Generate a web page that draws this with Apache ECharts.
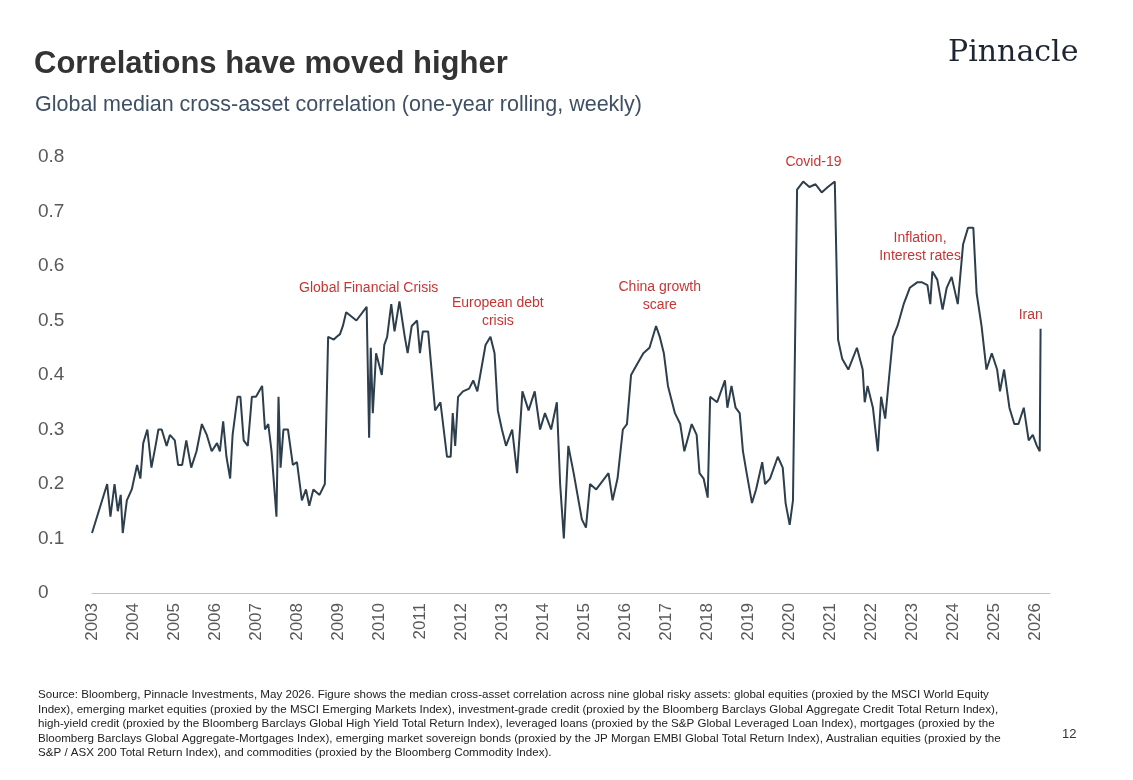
<!DOCTYPE html>
<html>
<head>
<meta charset="utf-8">
<script src="https://cdn.jsdelivr.net/npm/echarts@6/dist/echarts.min.js"></script>
<style>
  html, body { margin: 0; padding: 0; background: #fff; }
  #main { width: 1133px; height: 780px; }
</style>
</head>
<body>
<div id="main"></div>
<script>
// decimal year of each reading
var years = [
  2003.0, 2003.37, 2003.45, 2003.55, 2003.63, 2003.7, 2003.75, 2003.85, 2003.97,
  2004.1, 2004.18, 2004.25, 2004.35, 2004.45, 2004.55, 2004.62, 2004.7, 2004.82, 2004.9,
  2005.02, 2005.1, 2005.2, 2005.3, 2005.42, 2005.55, 2005.68, 2005.8, 2005.92,
  2006.05, 2006.12, 2006.2, 2006.28, 2006.37, 2006.43, 2006.55, 2006.62, 2006.7, 2006.8, 2006.9,
  2007.0, 2007.15, 2007.22, 2007.3, 2007.38, 2007.5, 2007.55, 2007.6, 2007.67, 2007.78,
  2007.9, 2008.0, 2008.12, 2008.22, 2008.3, 2008.4, 2008.55, 2008.68, 2008.76,
  2008.9, 2008.97, 2009.05, 2009.12, 2009.2, 2009.45, 2009.7, 2009.76, 2009.8, 2009.85, 2009.93,
  2010.07, 2010.13, 2010.2, 2010.3, 2010.38, 2010.5, 2010.63, 2010.7, 2010.8, 2010.93,
  2011.0, 2011.07, 2011.2, 2011.37, 2011.5, 2011.66, 2011.75, 2011.8, 2011.86, 2011.93,
  2012.05, 2012.2, 2012.3, 2012.4, 2012.6, 2012.72, 2012.82, 2012.9, 2013.0, 2013.1,
  2013.25, 2013.37, 2013.5, 2013.65, 2013.8, 2013.93, 2014.05, 2014.2, 2014.34,
  2014.42, 2014.51, 2014.62, 2014.75, 2014.95, 2015.05, 2015.15, 2015.3, 2015.6, 2015.7,
  2015.82, 2015.95, 2016.05, 2016.15, 2016.3, 2016.45, 2016.6, 2016.76, 2016.85, 2016.95,
  2017.05, 2017.22, 2017.35, 2017.45, 2017.63, 2017.75, 2017.82, 2017.92, 2018.02,
  2018.08, 2018.25, 2018.44, 2018.5, 2018.6, 2018.7, 2018.8, 2018.88, 2018.97, 2019.1,
  2019.2, 2019.35, 2019.42, 2019.54, 2019.73, 2019.85, 2019.92, 2020.02, 2020.1, 2020.2,
  2020.35, 2020.5, 2020.65, 2020.8, 2020.95, 2021.12, 2021.2, 2021.3, 2021.45, 2021.66,
  2021.8, 2021.85, 2021.92, 2022.05, 2022.17, 2022.25, 2022.35, 2022.45, 2022.54, 2022.65,
  2022.8, 2022.95, 2023.13, 2023.25, 2023.38, 2023.45, 2023.5, 2023.62, 2023.75, 2023.85,
  2023.97, 2024.12, 2024.25, 2024.37, 2024.5, 2024.58, 2024.7, 2024.82, 2024.95, 2025.08,
  2025.15, 2025.25, 2025.38, 2025.5, 2025.6, 2025.73, 2025.85, 2025.95, 2026.05, 2026.12, 2026.14
];
// one-year rolling median correlation
var corr = [
  0.11, 0.20, 0.14, 0.20, 0.15, 0.18, 0.11, 0.17, 0.19,
  0.235, 0.21, 0.275, 0.30, 0.23, 0.27, 0.30, 0.30, 0.27, 0.29,
  0.28, 0.235, 0.235, 0.28, 0.23, 0.26, 0.31, 0.29, 0.26,
  0.275, 0.26, 0.315, 0.25, 0.21, 0.29, 0.36, 0.36, 0.28, 0.27, 0.36,
  0.36, 0.38, 0.30, 0.31, 0.26, 0.14, 0.36, 0.23, 0.30, 0.30,
  0.235, 0.24, 0.17, 0.19, 0.16, 0.19, 0.18, 0.20, 0.47,
  0.465, 0.47, 0.475, 0.49, 0.515, 0.50, 0.525, 0.285, 0.45, 0.33, 0.44,
  0.40, 0.455, 0.47, 0.53, 0.48, 0.535, 0.47, 0.44, 0.49, 0.50,
  0.44, 0.48, 0.48, 0.335, 0.35, 0.25, 0.25, 0.33, 0.27, 0.36,
  0.37, 0.375, 0.39, 0.37, 0.455, 0.47, 0.44, 0.335, 0.30, 0.27,
  0.30, 0.22, 0.37, 0.335, 0.37, 0.30, 0.33, 0.30, 0.35,
  0.20, 0.10, 0.27, 0.22, 0.135, 0.12, 0.20, 0.19, 0.22, 0.17,
  0.21, 0.30, 0.31, 0.40, 0.42, 0.44, 0.45, 0.49, 0.47, 0.44,
  0.38, 0.33, 0.31, 0.26, 0.31, 0.29, 0.22, 0.21, 0.175,
  0.36, 0.35, 0.39, 0.34, 0.38, 0.34, 0.33, 0.26, 0.22, 0.165,
  0.19, 0.24, 0.20, 0.21, 0.25, 0.23, 0.165, 0.125, 0.17, 0.74,
  0.755, 0.745, 0.75, 0.735, 0.745, 0.755, 0.465, 0.43, 0.41, 0.45,
  0.41, 0.35, 0.38, 0.34, 0.26, 0.36, 0.32, 0.40, 0.47, 0.49,
  0.53, 0.56, 0.57, 0.57, 0.565, 0.53, 0.59, 0.575, 0.52, 0.56,
  0.58, 0.53, 0.64, 0.67, 0.67, 0.55, 0.49, 0.41, 0.44, 0.41,
  0.37, 0.41, 0.34, 0.31, 0.31, 0.34, 0.28, 0.29, 0.27, 0.26, 0.485
];
var yTicks = [0, 0.1, 0.2, 0.3, 0.4, 0.5, 0.6, 0.7, 0.8];
// event labels: [text, x year, y value]
var events = [
  ['Global Financial Crisis', 2009.75, 0.56],
  ['European debt\ncrisis', 2012.9, 0.515],
  ['China growth\nscare', 2016.85, 0.545],
  ['Covid-19', 2020.6, 0.79],
  ['Inflation,\nInterest rates', 2023.2, 0.635],
  ['Iran', 2025.9, 0.51]
];

var seriesData = years.map(function(y, i) { return [y, corr[i]]; });

var myChart = echarts.init(document.getElementById('main'));
var option = {
  backgroundColor: '#fff',
  animation: false,
  title: [{
    text: 'Correlations have moved higher',
    left: 29, top: 44,
    textStyle: { fontFamily: 'Liberation Sans', fontSize: 31, fontWeight: 'bold', color: '#333' }
  }, {
    text: 'Global median cross-asset correlation (one-year rolling, weekly)',
    left: 30, top: 89,
    textStyle: { fontFamily: 'Liberation Sans', fontSize: 21.5, fontWeight: 'normal', color: '#3f5064' }
  }],
  graphic: [{
    type: 'text', left: 948, top: 38,
    style: { text: 'Pinnacle', font: '30px "DejaVu Serif"', fill: '#1e2633' }
  }, {
    type: 'text', left: 1062, top: 728,
    style: { text: '12', font: '13px "Liberation Sans"', fill: '#333' }
  }, {
    type: 'text', left: 38, top: 688,
    style: {
      text: 'Source: Bloomberg, Pinnacle Investments, May 2026. Figure shows the median cross-asset correlation across nine global risky assets: global equities (proxied by the MSCI World Equity\nIndex), emerging market equities (proxied by the MSCI Emerging Markets Index), investment-grade credit (proxied by the Bloomberg Barclays Global Aggregate Credit Total Return Index),\nhigh-yield credit (proxied by the Bloomberg Barclays Global High Yield Total Return Index), leveraged loans (proxied by the S&P Global Leveraged Loan Index), mortgages (proxied by the\nBloomberg Barclays Global Aggregate-Mortgages Index), emerging market sovereign bonds (proxied by the JP Morgan EMBI Global Total Return Index), Australian equities (proxied by the\nS&P / ASX 200 Total Return Index), and commodities (proxied by the Bloomberg Commodity Index).',
      font: '11.6px "Liberation Sans"', fill: '#222', lineHeight: 14.5
    }
  }],
  grid: { left: 92, right: 83, top: 157, bottom: 187 },
  xAxis: {
    type: 'value', min: 2003, max: 2026.37, interval: 1,
    axisLine: { lineStyle: { color: '#bfbfbf' } },
    axisTick: { show: false },
    splitLine: { show: false },
    axisLabel: {
      rotate: 90, color: '#595959', fontSize: 17, fontFamily: 'Liberation Sans',
      showMaxLabel: false, margin: 10,
      formatter: function(v) { return String(Math.round(v)); }
    }
  },
  yAxis: {
    type: 'value', min: yTicks[0], max: yTicks[yTicks.length - 1], interval: 0.1,
    axisLine: { show: false }, axisTick: { show: false }, splitLine: { show: false },
    axisLabel: {
      color: '#595959', fontSize: 19, fontFamily: 'Liberation Sans', margin: 54,
      align: 'left',
      formatter: function(v) { return v === 0 ? '0' : String(Math.round(v * 10) / 10); }
    }
  },
  series: [{
    type: 'line',
    data: seriesData,
    symbol: 'none',
    lineStyle: { color: '#2d3e4c', width: 2 }
  }, {
    type: 'scatter',
    data: events.map(function(e) { return [e[1], e[2], e[0]]; }),
    symbolSize: 0,
    label: {
      show: true, position: 'inside', color: '#b80000', fontSize: 14,
      fontFamily: 'Liberation Sans', lineHeight: 18,
      formatter: function(p) { return p.value[2]; }
    }
  }]
};
myChart.setOption(option);
</script>
</body>
</html>
